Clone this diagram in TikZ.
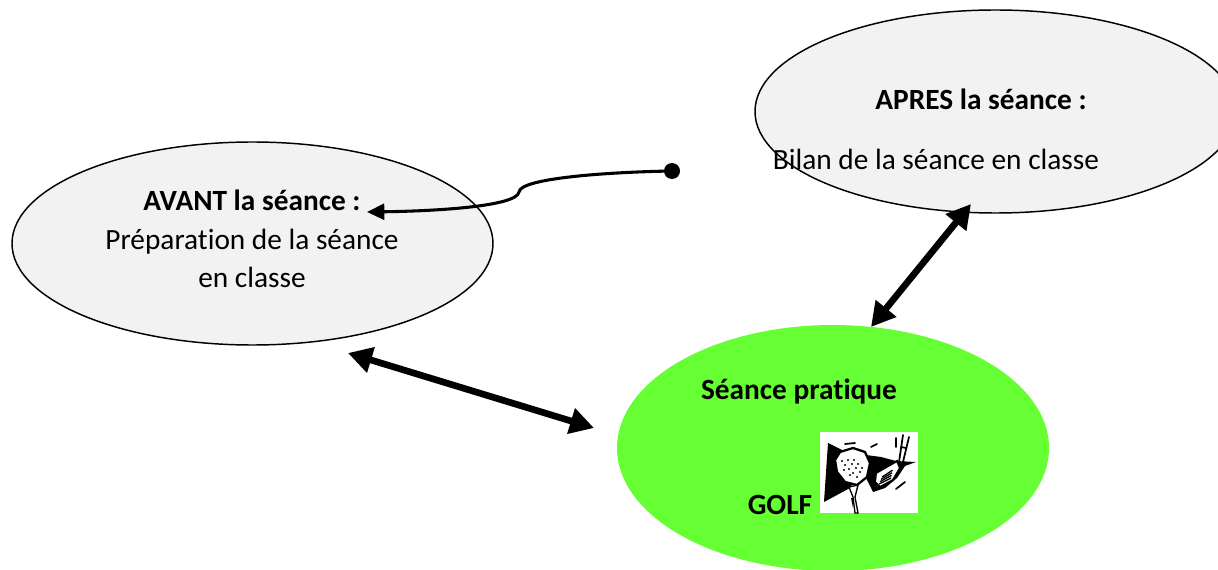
\documentclass[tikz,border=0pt]{standalone}
\usepackage{fontspec}
\setmainfont[Ligatures=NoCommon]{Carlito}
\usetikzlibrary{arrows.meta,shapes.geometric}
\definecolor{softgray}{HTML}{F2F2F2}
\definecolor{lime}{HTML}{66FF33}
\tikzset{
  x=0.75pt,y=-0.75pt,
  oval/.style={ellipse,draw=black,line width=1.1pt,inner sep=0pt,outer sep=0pt},
  label/.style={font=\fontsize{22pt}{26pt}\selectfont,inner sep=0pt,anchor=base},
  boldlabel/.style={label,font=\fontsize{22pt}{26pt}\selectfont\bfseries},
  thick arrow/.style={line width=5pt,{Triangle[length=18pt,width=19pt]}-{Triangle[length=18pt,width=19pt]}},
  thin arrow/.style={line width=2.3pt,-{Triangle[length=13pt,width=12pt]}},
  clip ink/.style={black,line width=1.3pt,line cap=round},
}
\begin{document}
\begin{tikzpicture}
\path[use as bounding box] (0,0) rectangle (1218,570);
\clip (0,0) rectangle (1218,570);
\node[oval,fill=softgray,minimum width=360.75pt,minimum height=152.25pt] (avant) at (252.5,243.5) {};
\node[oval,fill=softgray,minimum width=360.75pt,minimum height=152.25pt] (apres) at (995.5,111.5) {};
\node[ellipse,fill=lime,inner sep=0pt,minimum width=324pt,minimum height=184.5pt] (seance) at (833,448) {};
\node[boldlabel] (t1) at (252,211) {AVANT la séance :};
\node[label] (t2) at (252,250) {Préparation de la séance};
\node[label] (t3) at (252,288) {en classe};
\node[boldlabel] (t4) at (981,110) {APRES la séance :};
\node[label] (t5) at (936,170) {Bilan de la séance en classe};
\node[boldlabel] (t6) at (799,400) {Séance pratique};
\node[boldlabel] (t7) at (780,514) {GOLF};
% golf clip art
\fill[white] (820,432) rectangle (918,513);
\fill[black] (828,443) -- (842,450) -- (860,470) -- (850,488) -- (824,502) -- cycle;
\fill[black] (866,455) -- (881,457) -- (896,461) -- (916,462) -- (905,466) -- (897,478) -- (885,488) -- (873,492) -- (866,478) -- cycle;
\fill[white,draw=black,line width=1.7pt] (840,452) -- (853,448) -- (865,452) -- (870,463) -- (867,477) -- (857,485) -- (845,482) -- (837,472) -- (835,460) -- cycle;
\foreach \a/\b in {842/461,845/465,849/469,853/473,857/477,848/460,852/464,856/468,860/472,854/460,858/464,862/468,844/470,850/475}
  \fill[black] (\a,\b) circle (1.2);
\fill[white,draw=black,line width=1pt] (849,487) -- (858,485) -- (855,497) -- (858,513) -- (855,513) -- (853,497) -- cycle;
\fill[black] (851,498) -- (853,498) -- (853,508) -- cycle;
\fill[white,draw=black,line width=1.5pt] (876,473) -- (897,461) -- (900,468) -- (893,480) -- (880,487) -- (875,482) -- cycle;
\foreach \k in {0,1,2,3} \draw[black,line width=1pt] (879+\k,484-\k*2.3) -- (891+\k*0.5,478-\k*2.6);
\draw[clip ink] (899,462) -- (903,435);
\draw[clip ink] (903,462) -- (909,437);
\draw[clip ink] (901,447) -- (906,448);
\draw[clip ink] (845,444) -- (855,443);
\draw[clip ink] (871,447) -- (877,444);
\draw[clip ink] (896,447) -- (896,438);
\draw[clip ink] (896,489) -- (905,482);
% connectors
\coordinate (a1) at (348,353); \coordinate (a2) at (594,428);
\coordinate (b1) at (971,204); \coordinate (b2) at (871,327);
\coordinate (c1) at (367,212);
\node[circle,fill=black,inner sep=0pt,minimum size=12pt] (dot) at (672,171) {};
\draw[thick arrow] (a1) -- (a2);
\draw[thick arrow] (b1) -- (b2);
\draw[thin arrow] (dot.center) .. controls (610,172) and (520,178) .. (519,192) .. controls (517,206) and (440,211) .. (c1);
\end{tikzpicture}
\end{document}
